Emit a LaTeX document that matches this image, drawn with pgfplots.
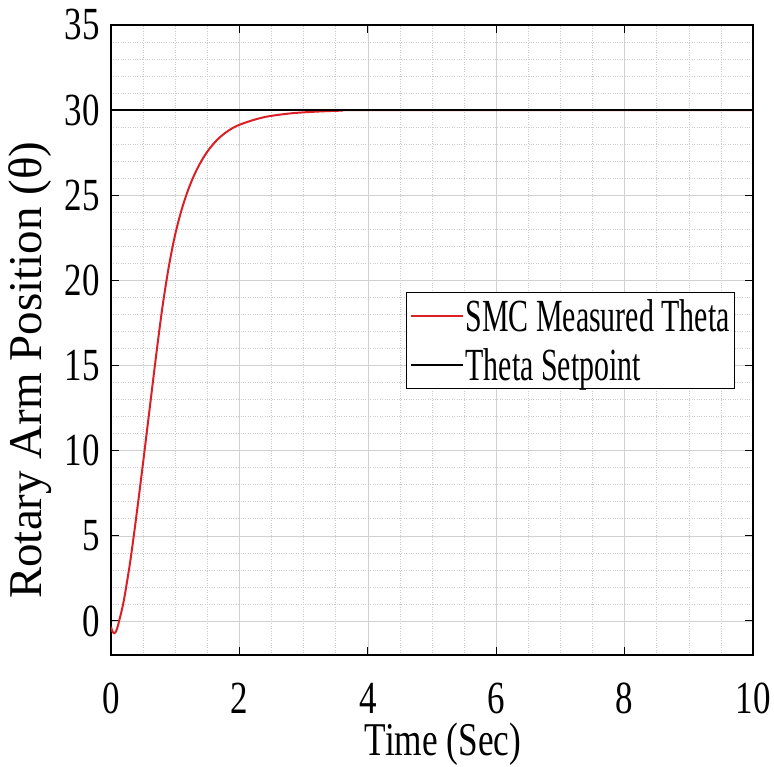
\documentclass[border=0pt]{standalone}
\usepackage{pgfplots}
\pgfplotsset{compat=1.18}
\usepackage{fontspec}
\setmainfont{Liberation Serif}
\usepackage{graphicx}
\newcommand\sq[2]{\scalebox{#1}[1]{#2}}
\definecolor{smcred}{rgb}{0.86,0.12,0.15}
\begin{document}
\begin{tikzpicture}
\path[use as bounding box] (0pt,0pt) rectangle (774pt,766pt);
\begin{axis}[
  at={(111pt,111pt)}, anchor=south west,
  scale only axis, width=642pt, height=630pt,
  xmin=0, xmax=10, ymin=-2, ymax=35,
  xtick={0,2,...,10}, ytick={0,5,...,35},
  minor x tick num=3, minor y tick num=4,
  grid=both,
  major grid style={solid, line width=0.6pt, color=black!18},
  minor grid style={dotted, line width=0.6pt, color=black!20},
  tick align=inside, major tick length=8pt, minor tick length=0pt,
  tick style={black, line width=1pt},
  axis line style={black, line width=1.2pt},
  tick label style={font=\fontsize{46}{50}\selectfont, inner sep=0pt},
  xticklabel={\sq{0.76}{\pgfmathprintnumber[assume math mode=true]{\tick}}},
  yticklabel={\sq{0.76}{\pgfmathprintnumber[assume math mode=true]{\tick}}},
  xticklabel style={anchor=base, yshift=-58pt},
  yticklabel style={anchor=east, xshift=-11pt},
  xlabel={\sq{0.75}{Time (Sec)}},
  xlabel style={at={(axis description cs:0.517,-0.1595)}, anchor=base, font=\fontsize{47}{50}\selectfont, inner sep=0pt},
  ylabel={Rotary Arm Position (θ)},
  ylabel style={at={(axis description cs:-0.126,0.452)}, anchor=center, font=\fontsize{47}{50}\selectfont, inner sep=0pt},
  legend style={at={(axis description cs:0.4595,0.576)}, anchor=north west,
    font=\fontsize{46}{50}\selectfont, draw=black, line width=1.2pt,
    inner xsep=3pt, inner ysep=5pt, row sep=11pt, fill=white},
  legend cell align=left,
  legend image code/.code={\draw[#1] (0pt,0pt) -- (52pt,0pt);},
]
\addplot[smcred, line width=2pt, smooth] coordinates {
(0,-0.35) (0.02,-0.6) (0.05,-0.72) (0.08,-0.6) (0.11,-0.25) (0.14,0.2)
(0.2,1.2) (0.3,3.5) (0.4,6.3) (0.5,9.3) (0.6,12.4) (0.7,15.5) (0.8,18.4)
(0.9,20.8) (1.0,22.7) (1.1,24.15) (1.2,25.3) (1.3,26.22) (1.4,26.96)
(1.5,27.56) (1.6,28.04) (1.7,28.42) (1.8,28.72) (1.9,28.96) (2.0,29.14)
(2.2,29.4) (2.4,29.6) (2.6,29.72) (2.8,29.81) (3.0,29.87) (3.3,29.93)
(3.6,29.97) (4.0,30) (10,30)
};
\addlegendentry{\sq{0.65}{SMC Measured Theta}}
\addplot[black, line width=1.5pt] coordinates {(0,30) (10,30)};
\addlegendentry{\sq{0.65}{Theta Setpoint}}
\end{axis}
\end{tikzpicture}
\end{document}
